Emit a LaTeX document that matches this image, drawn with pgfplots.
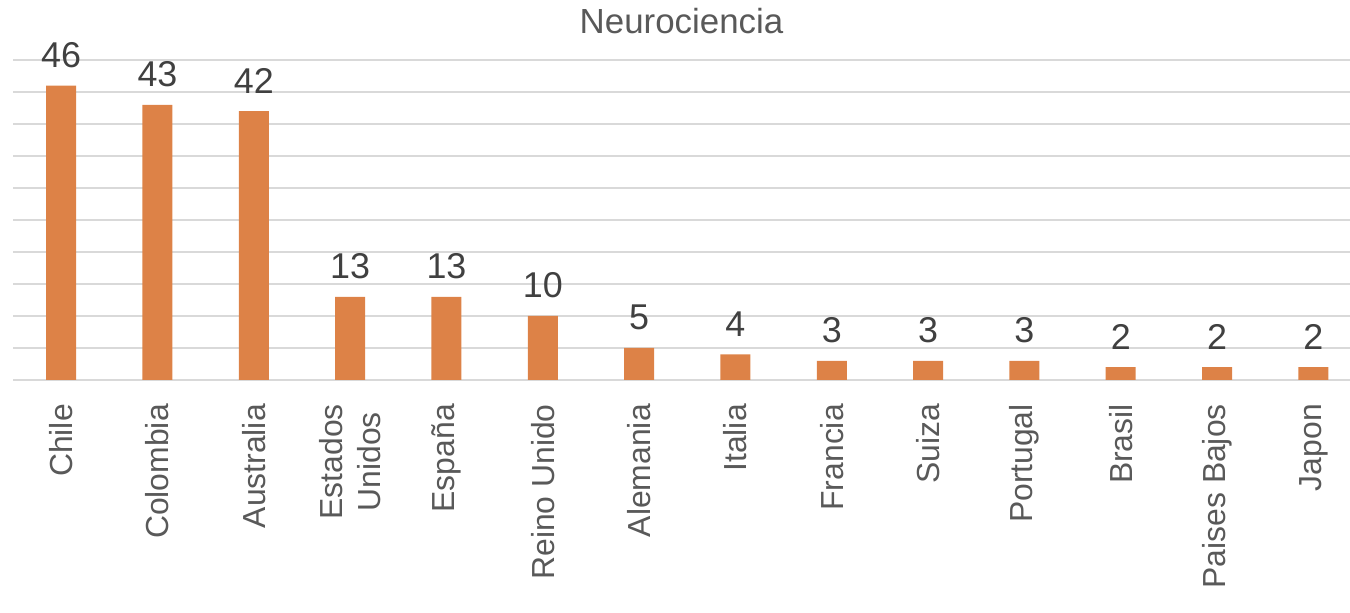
\documentclass[border=0pt]{standalone}
\usepackage{fontspec}
\setmainfont{Liberation Sans}
\usepackage{pgfplots}
\pgfplotsset{compat=1.18}
\definecolor{barorange}{RGB}{221,130,71}
\definecolor{gridgray}{RGB}{217,217,217}
\definecolor{labelgray}{RGB}{89,89,89}
\definecolor{numgray}{RGB}{64,64,64}

\begin{document}
\begin{tikzpicture}
\begin{axis}[
    at={(13bp,233bp)}, anchor=south west,
    scale only axis,
    width=1337bp, height=320bp,
    ybar, bar width=30bp,
    xmin=-0.5, xmax=13.38,
    ymin=0, ymax=50,
    ytick={0,5,...,50}, yticklabels={},
    ymajorgrids,
    major grid style={gridgray, line width=1.4bp},
    axis line style={draw=none},
    major tick length=0pt,
    /pgf/number format/assume math mode=true,
    xtick=data,
    xticklabels={Chile, Colombia, Australia, {Estados\\Unidos}, España, Reino Unido, Alemania, Italia, Francia, Suiza, Portugal, Brasil, Paises Bajos, Japon},
    xticklabel shift=24bp,
    xticklabel style={rotate=90, anchor=east, align=center, inner sep=0pt,
        font=\fontsize{32}{39}\selectfont, text=labelgray},
    title={Neurociencia},
    title style={at={(0.5,1)}, anchor=base, yshift=21bp, inner sep=0pt,
        font=\fontsize{35}{38}\selectfont, text=labelgray},
    nodes near coords,
    every node near coord/.append style={anchor=base, yshift=18bp, inner sep=0pt,
        font=\fontsize{36}{40}\selectfont, text=numgray},
]
\addplot[fill=barorange, draw=none] coordinates {
    (0,46) (1,43) (2,42) (3,13) (4,13) (5,10) (6,5)
    (7,4) (8,3) (9,3) (10,3) (11,2) (12,2) (13,2)
};
\end{axis}
\pgfresetboundingbox
\useasboundingbox (0,0) rectangle (1350bp,613bp);
\end{tikzpicture}
\end{document}
